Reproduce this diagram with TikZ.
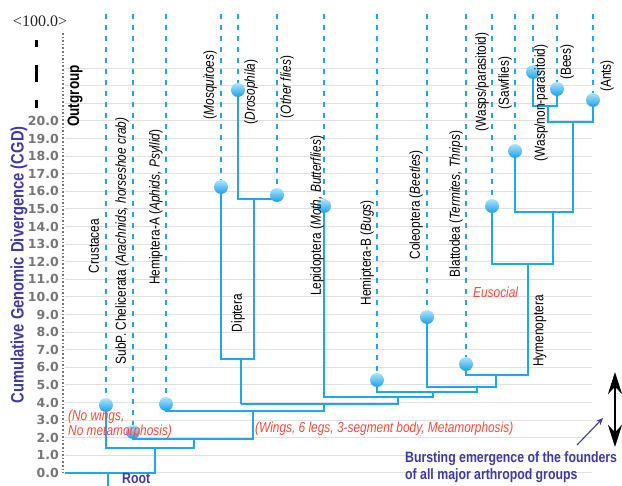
\documentclass[tikz,border=0pt]{standalone}
\usepackage{fontspec}
\setmainfont[FakeStretch=0.82]{Liberation Sans}
\newfontfamily\tickfont{DejaVu Sans}
\newfontfamily\serifnum{Liberation Serif}
\usetikzlibrary{arrows.meta}
\definecolor{treeblue}{RGB}{30,168,235}
\definecolor{balltop}{RGB}{175,228,252}
\definecolor{ballbot}{RGB}{25,160,232}
\definecolor{redtxt}{RGB}{250,72,58}
\definecolor{purp}{RGB}{62,58,172}
\definecolor{gridc}{RGB}{224,224,224}
\definecolor{tickc}{RGB}{118,118,118}
\newcommand\lblfont{\fontsize{14.5}{17}\selectfont}
\tikzset{
  grid line/.style={draw=gridc, line width=1pt},
  tree/.style={draw=treeblue, line width=2.5pt},
  leafdash/.style={draw=treeblue, line width=2pt, dash pattern=on 5pt off 6pt},
  ballnode/.style={circle, minimum size=14pt, inner sep=0pt, top color=balltop, bottom color=ballbot, draw=none},
  leaflbl/.style={rotate=90, anchor=center, inner sep=0pt, font=\lblfont},
  ticklbl/.style={anchor=east, inner sep=0pt, text=tickc, font=\tickfont\bfseries\fontsize{12.5}{14}\selectfont},
  redlbl/.style={anchor=west, inner sep=0pt, text=redtxt, font=\lblfont\itshape},
  purplbl/.style={anchor=west, inner sep=0pt, text=purp, font=\fontsize{15}{17}\selectfont\bfseries}
}
\begin{document}
\begin{tikzpicture}[x=1pt,y=-1pt]
\useasboundingbox (0,0) rectangle (622,486);
\fill[white] (0,0) rectangle (622,486);

% grid lines
\foreach \v in {0,...,23} \draw[grid line] (65,{473-17.6*\v}) -- (592,{473-17.6*\v});
% tick labels
\foreach \v in {0,...,20} \node[ticklbl] (tk\v) at (59,{473-17.6*\v}) {\v.0};
% dotted axis
\coordinate (axtop) at (63,33);
\coordinate (axbot) at (63,473);
\draw[draw=tickc, line width=1.6pt, dotted] (axtop) -- (axbot);
% axis break marks
\draw[black, line width=3pt] (36,40) -- (36,47);
\draw[black, line width=3pt] (36,65) -- (36,82);
\draw[black, line width=3pt] (36,100) -- (36,108);
\node[anchor=center, inner sep=0pt, font=\serifnum\fontsize{16}{18}\selectfont, text=black!85] (top100) at (40,21) {<100.0>};
% axis title
\node[rotate=90, anchor=center, inner sep=0pt, text=purp, font=\fontsize{18}{20}\selectfont\bfseries] (ytitle) at (19,265) {Cumulative Genomic Divergence (CGD)};
\node[rotate=90, anchor=center, inner sep=0pt, font=\fontsize{16.5}{19}\selectfont\bfseries] (outg) at (75,96) {Outgroup};

% leaf positions
\coordinate (crus) at (106,405);
\coordinate (chel) at (133,432);
\coordinate (hemA) at (166,404);
\coordinate (mosq) at (221,187);
\coordinate (dros) at (238,90);
\coordinate (othf) at (277,195);
\coordinate (lepi) at (324,206);
\coordinate (hemB) at (377,380);
\coordinate (cole) at (427,317);
\coordinate (blat) at (466,364);
\coordinate (wpar) at (492,206);
\coordinate (sawf) at (515,151);
\coordinate (wnon) at (533,72);
\coordinate (bees) at (557,89);
\coordinate (ants) at (593,100);
% tops of dashed lines
\foreach \n/\x in {crus/106,chel/133,hemA/166,mosq/221,dros/238,othf/277,lepi/324,hemB/377,cole/427,blat/466,wpar/492,sawf/515,wnon/533,bees/557,ants/593}
  \coordinate (\n T) at (\x,14);
\foreach \n in {crus,chel,hemA,mosq,dros,othf,lepi,hemB,cole,blat,wpar,sawf,wnon,bees,ants}
  \draw[leafdash] (\n T) -- (\n);

% junctions
\coordinate (rootend) at (108,486);
\coordinate (rootj) at (108,473);
\coordinate (ax0) at (65,473);
\coordinate (j0) at (155,473);
\coordinate (j1) at (155,448);
\coordinate (j1r) at (194,448);
\coordinate (j2) at (194,439);
\coordinate (j2r) at (253,439);
\coordinate (j3) at (253,411);
\coordinate (j3r) at (324,411);
\coordinate (j4) at (324,404);
\coordinate (dip) at (241,404);
\coordinate (j4r) at (398,404);
\coordinate (j5) at (398,397);
\coordinate (dipj) at (241,359);
\coordinate (dipr) at (254,359);
\coordinate (flyj) at (254,199);
\coordinate (j5r) at (433,397);
\coordinate (j6) at (433,392);
\coordinate (j6r) at (477,392);
\coordinate (j7) at (477,387);
\coordinate (j7r) at (496,387);
\coordinate (j8) at (496,375);
\coordinate (hym) at (528,375);
\coordinate (hymj) at (528,264);
\coordinate (h2) at (553,264);
\coordinate (h2j) at (553,212);
\coordinate (h3) at (573,212);
\coordinate (h3j) at (573,122);
\coordinate (h4) at (548,122);
\coordinate (h4j) at (548,106);

% tree
\draw[tree] (rootend) -- (rootj);
\draw[tree] (ax0) -- (j0) -- (j1);
\draw[tree] (crus) |- (j1r) -- (j2);
\draw[tree] (chel) |- (j2r) -- (j3);
\draw[tree] (hemA) |- (j3r) -- (j4);
\draw[tree] (dip) -- (j4r) -- (j5);
\draw[tree] (dip) -- (dipj);
\draw[tree] (mosq) |- (dipr) -- (flyj);
\draw[tree] (dros) |- (flyj) -| (othf);
\draw[tree] (lepi) |- (j5r) -- (j6);
\draw[tree] (hemB) |- (j6r) -- (j7);
\draw[tree] (cole) |- (j7r) -- (j8);
\draw[tree] (blat) |- (hym) -- (hymj);
\draw[tree] (wpar) |- (h2) -- (h2j);
\draw[tree] (sawf) |- (h3) -- (h3j);
\draw[tree] (ants) |- (h4) -- (h4j);
\draw[tree] (wnon) |- (h4j) -| (bees);

% balls
\foreach \n in {crus,chel,hemA,mosq,dros,othf,lepi,hemB,cole,blat,wpar,sawf,wnon,bees,ants}
  \node[ballnode] (\n B) at (\n) {};

% leaf labels
\node[leaflbl] (lcrus) at (94,246) {Crustacea};
\node[leaflbl] (lchel) at (122,241) {SubP. Chelicerata \textit{(Arachnids, horseshoe crab)}};
\node[leaflbl] (lhemA) at (156,207) {Hemiptera-A (\textit{Aphids, Psyllid})};
\node[leaflbl] (lmosq) at (210,85) {(\textit{Mosquitoes})};
\node[leaflbl] (ldros) at (251,92) {(\textit{Drosophila})};
\node[leaflbl] (lothf) at (287,87) {(\textit{Other flies})};
\node[leaflbl] (ldipt) at (238,313) {Diptera};
\node[leaflbl] (llepi) at (317,216) {Lepidoptera (\textit{Moth, Butterflies})};
\node[leaflbl] (lhemB) at (367,253) {Hemiptera-B (\textit{Bugs})};
\node[leaflbl] (lcole) at (416,205) {Coleoptera (\textit{Beetles})};
\node[leaflbl] (lblat) at (456,204) {Blattodea (\textit{Termites, Thrips})};
\node[leaflbl] (lwpar) at (482,82) {(Wasps/parasitoid)};
\node[leaflbl] (lsawf) at (505,83) {(Sawflies)};
\node[leaflbl] (lwnon) at (541,103) {(Wasp/non-parasitoid)};
\node[leaflbl] (lbees) at (567,62) {(Bees)};
\node[leaflbl] (lants) at (607,76) {(Ants)};
\node[leaflbl] (lhym) at (540,331) {Hymenoptera};

% annotations
\node[redlbl] (euso) at (473,292) {Eusocial};
\node[redlbl] (nowing1) at (68,417) {(No wings,};
\node[redlbl] (nowing2) at (68,432) {No metamorphosis)};
\node[redlbl] (wings) at (255,429) {(Wings, 6 legs, 3-segment body, Metamorphosis)};
\node[purplbl] (burst1) at (405,459) {Bursting emergence of the founders};
\node[purplbl] (burst2) at (405,476) {of all major arthropod groups};
\node[purplbl, anchor=north west] (rootlbl) at (122,473) {Root};

% arrows
\coordinate (arrT) at (577,445);
\coordinate (arrH) at (603,418);
\draw[purp, line width=1.1pt, -{Stealth[length=7pt,width=6pt]}] (arrT) -- (arrH);
\coordinate (dblT) at (615,372);
\coordinate (dblB) at (615,447);
\draw[black, line width=2.4pt, {Stealth[length=22pt,width=14pt]}-{Stealth[length=22pt,width=14pt]}] (dblT) -- (dblB);
\end{tikzpicture}
\end{document}
